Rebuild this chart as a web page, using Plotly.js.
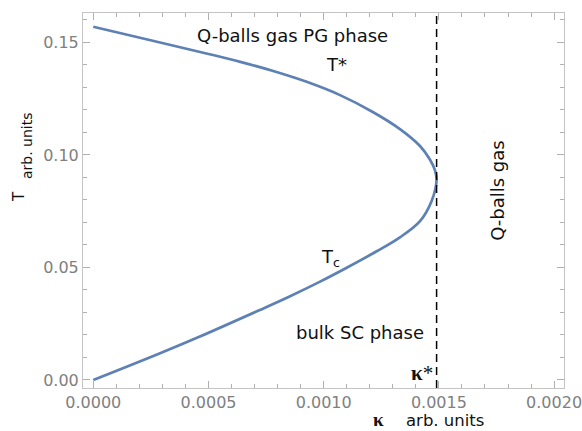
<!DOCTYPE html>
<html>
<head>
<meta charset="utf-8">
<script src="https://cdn.plot.ly/plotly-3.0.1.min.js"></script>
<style>html,body{margin:0;padding:0;background:#fff;}#chart{width:582px;height:431px;}</style>
</head>
<body>
<div id="chart"></div>
<script>
// Phase boundary curve: lower branch T_c (from kappa=0 up to the tip), then upper branch T* (back to kappa=0)
const kappaVals = [0, 0.00029, 0.00046, 0.00072, 0.000845, 0.00098, 0.00110, 0.00123, 0.001331, 0.001418, 0.001469, 0.00149,
                   0.001483, 0.001461, 0.001418, 0.001331, 0.001215, 0.001071, 0.000926, 0.000781, 0.000638, 0.00050, 0.00029, 0];
const tempVals  = [0, 0.0119, 0.0192, 0.0310, 0.0368, 0.0435, 0.0499, 0.0572, 0.0634, 0.0706, 0.0797, 0.0890,
                   0.0932, 0.0980, 0.1040, 0.1115, 0.1190, 0.1266, 0.1325, 0.1373, 0.1414, 0.1449, 0.1500, 0.157];
const kStar = 0.00149;
const xTickVals = [0, 0.0005, 0.001, 0.0015, 0.002];
const xTickText = ["0.0000", "0.0005", "0.0010", "0.0015", "0.0020"];
const yTickVals = [0, 0.05, 0.10, 0.15];
const yTickText = ["0.00", "0.05", "0.10", "0.15"];
const xRange = [-0.0000447, 0.002043];
const yRange = [-0.00356, 0.1631];

const sans = "DejaVu Sans";
const serif = "Liberation Serif";

// plot area in pixels: x 83..564, y 13..388
const px = (p) => (p - 83) / 481;
const py = (p) => (388 - p) / 375;

const traces = [{
  type: "scatter", mode: "lines",
  x: kappaVals, y: tempVals,
  line: {color: "#5E81B5", width: 2.7, shape: "spline", smoothing: 1},
  hoverinfo: "skip", showlegend: false
}];

const axisCommon = {
  showgrid: false, zeroline: false,
  showline: true, linecolor: "#c4c4c4", linewidth: 1, mirror: "ticks",
  ticks: "inside", ticklen: 7, tickwidth: 1, tickcolor: "#b0b0b0",
  ticklabeloverflow: "allow",
  tickfont: {family: sans, size: 16, color: "#808080"},
};

function note(text, x, y, ref, size, family, angle) {
  return {text: text, x: x, y: y, xref: ref === "paper" ? "paper" : "x", yref: ref === "paper" ? "paper" : "y",
          xanchor: "center", yanchor: "middle", showarrow: false, textangle: angle || 0,
          font: {family: family, size: size, color: "#111"}};
}

const layout = {
  width: 582, height: 431,
  margin: {l: 83, r: 18, t: 13, b: 43},
  paper_bgcolor: "#fff", plot_bgcolor: "#fff",
  showlegend: false,
  xaxis: Object.assign({}, axisCommon, {
    range: xRange, tickvals: xTickVals, ticktext: xTickText,
    minor: {dtick: 0.0001, tick0: 0, ticks: "inside", ticklen: 4, tickcolor: "#b0b0b0", showgrid: false}
  }),
  yaxis: Object.assign({}, axisCommon, {
    range: yRange, tickvals: yTickVals, ticktext: yTickText,
    minor: {dtick: 0.01, tick0: 0, ticks: "inside", ticklen: 4, tickcolor: "#b0b0b0", showgrid: false}
  }),
  shapes: [{
    type: "line", xref: "x", yref: "paper", x0: kStar, x1: kStar, y0: 0, y1: 1,
    line: {color: "#000", width: 1.5, dash: "8px,5px"}
  }],
  annotations: [
    note("Q-balls gas PG phase", 0.000865, 0.1533, "data", 18, sans),
    note("T*", 0.001056, 0.1404, "data", 18, sans),
    note("T<sub>c</sub>", 0.001031, 0.0540, "data", 18, sans),
    note("bulk SC phase", 0.001156, 0.0213, "data", 18, sans),
    note("<b>κ</b>*", 0.001427, 0.0031, "data", 21, serif),
    note("Q-balls gas", 0.001757, 0.0841, "data", 18, sans, -90),
    // axis titles, placed in paper units
    note("<b>κ</b>", px(378), py(419), "paper", 19, serif),
    note("arb. units", px(445), py(420.5), "paper", 16.5, sans),
    note("T", px(19), py(197), "paper", 15, sans, -90),
    note("arb. units", px(27), py(146), "paper", 14, sans, -90)
  ]
};

Plotly.newPlot("chart", traces, layout, {staticPlot: true, displayModeBar: false});
</script>
</body>
</html>
